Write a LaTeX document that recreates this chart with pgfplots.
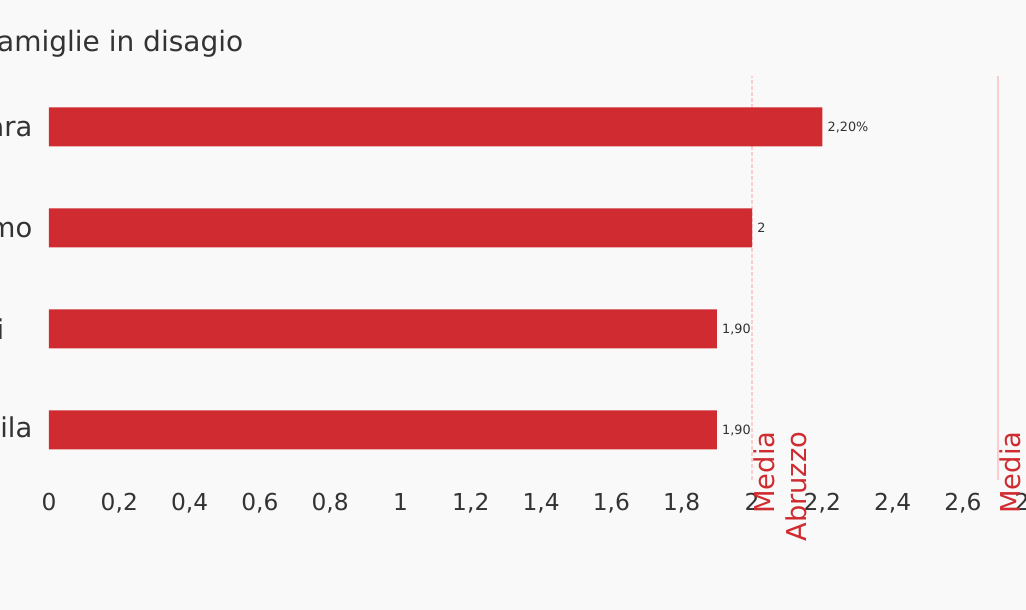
\documentclass[border=0pt]{standalone}
\usepackage{pgfplots}
\pgfplotsset{compat=1.18}
\usepackage{pgfplotstable}
\usepackage{fontspec}
\setmainfont{DejaVu Sans}
\definecolor{bg}{RGB}{249,249,249}
\definecolor{barred}{RGB}{207,43,48}
\definecolor{txt}{RGB}{51,51,51}
\definecolor{linepink}{RGB}{255,204,206}
\pgfplotstableread{
y x label
0 1.9 {1,90}
1 1.9 {1,90}
2 2.0 2
3 2.2 {2,20\%}
}\bars
\begin{document}
\begin{tikzpicture}
\useasboundingbox (0,0) rectangle (769.5pt,457.5pt);
\clip (0,0) rectangle (769.5pt,457.5pt);
\fill[bg] (0,0) rectangle (769.5pt,457.5pt);
\node[anchor=base west, font=\fontsize{21}{25}\selectfont, text=txt, inner sep=0pt] at (-12.5pt,418.5pt) {Famiglie in disagio};
\begin{axis}[
  at={(36.75pt,97.125pt)}, anchor=south west, scale only axis,
  width=738.15pt, height=303pt,
  xmin=0, xmax=2.8, ymin=-0.5, ymax=3.5,
  axis line style={draw=none}, major tick length=0pt,
  xtick={0,0.2,0.4,0.6,0.8,1,1.2,1.4,1.6,1.8,2,2.2,2.4,2.6,2.8},
  ytick={0,1,2,3},
  yticklabels={L'Aquila,Chieti\hspace*{21pt},Teramo,Pescara},
  xtick pos=bottom, ytick pos=left,
  /pgf/number format/use comma,
  /pgf/number format/1000 sep={},
  /pgf/number format/assume math mode=true,
  xticklabel style={font=\fontsize{17.5}{21}\selectfont, text=txt, text height=12.8pt, text depth=0pt, yshift=-6.5pt},
  yticklabel style={font=\fontsize{20.5}{24}\selectfont, text=txt, xshift=-9pt},
  clip=false,
]
\addplot[linepink, line width=1.5pt, dash pattern=on 3pt off 1.5pt] coordinates {(2,-0.5) (2,3.5)};
\addplot[linepink, line width=1.5pt] coordinates {(2.7,-0.5) (2.7,3.5)};
\addplot[xbar, bar width=29.25pt, fill=barred, draw=none,
  nodes near coords, point meta=explicit symbolic,
  every node near coord/.append style={anchor=west, font=\fontsize{9.6}{12}\selectfont, text=txt, xshift=0.5pt, yshift=0pt}]
  table[x=x, y=y, meta=label] {\bars};
\node[rotate=90, anchor=north east, align=right, text=barred, font=\fontsize{20.5}{24}\selectfont, inner sep=1pt] at (axis cs:2,0) {Media\\Abruzzo};
\node[rotate=90, anchor=north east, align=right, text=barred, font=\fontsize{20.5}{24}\selectfont, inner sep=1pt] at (axis cs:2.7,0) {Media\\Italia};
\end{axis}
\end{tikzpicture}
\end{document}
